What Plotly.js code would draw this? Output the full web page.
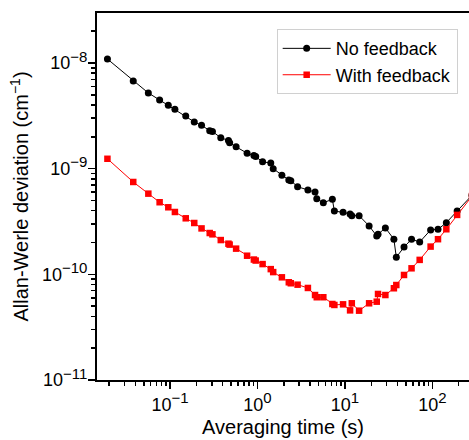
<!DOCTYPE html>
<html>
<head>
<meta charset="utf-8">
<script src="https://cdn.plot.ly/plotly-3.0.1.min.js"></script>
<style>
  html, body { margin: 0; padding: 0; background: #fff; }
  #chart { width: 469px; height: 440px; }
</style>
</head>
<body>
<div id="chart"></div>
<script>
// Averaging time (s)
const tau = [
  0.0192, 0.0379, 0.0564, 0.0759, 0.0954, 0.1135, 0.151, 0.189, 0.229, 0.284,
  0.305, 0.380, 0.465, 0.480, 0.569, 0.760, 0.909, 0.953, 1.143, 1.418,
  1.511, 1.900, 2.280, 2.404, 2.873, 3.77, 4.55, 4.76, 5.66, 7.18,
  7.57, 9.52, 11.45, 11.98, 14.52, 18.9, 23.1, 23.9, 29.0, 36.3,
  38.7, 47.4, 57.8, 71.6, 95.5, 116, 144.5, 192, 284
];

// Allan-Werle deviation (cm^-1), no feedback
const noFeedback = [
  1.09e-8, 6.76e-9, 5.20e-9, 4.47e-9, 3.98e-9, 3.65e-9, 3.15e-9, 2.77e-9, 2.57e-9, 2.29e-9,
  2.25e-9, 1.96e-9, 1.85e-9, 1.76e-9, 1.61e-9, 1.40e-9, 1.33e-9, 1.30e-9, 1.16e-9, 1.13e-9,
  1.00e-9, 8.66e-10, 7.81e-10, 7.69e-10, 6.75e-10, 6.28e-10, 6.01e-10, 5.20e-10, 4.76e-10, 5.13e-10,
  3.97e-10, 3.86e-10, 3.72e-10, 3.59e-10, 3.59e-10, 2.87e-10, 2.31e-10, 2.39e-10, 2.75e-10, 2.15e-10,
  1.45e-10, 1.81e-10, 2.15e-10, 2.02e-10, 2.63e-10, 2.67e-10, 3.08e-10, 3.97e-10, 5.6e-10
];

// Allan-Werle deviation (cm^-1), with feedback
const withFeedback = [
  1.24e-9, 7.48e-10, 5.80e-10, 4.81e-10, 4.31e-10, 3.89e-10, 3.39e-10, 3.06e-10, 2.72e-10, 2.46e-10,
  2.39e-10, 2.11e-10, 1.95e-10, 1.91e-10, 1.75e-10, 1.50e-10, 1.38e-10, 1.35e-10, 1.25e-10, 1.12e-10,
  1.05e-10, 9.37e-11, 8.41e-11, 8.23e-11, 7.98e-11, 7.43e-11, 6.37e-11, 6.07e-11, 6.07e-11, 5.24e-11,
  5.13e-11, 5.20e-11, 4.56e-11, 5.32e-11, 4.53e-11, 5.32e-11, 5.51e-11, 6.52e-11, 6.37e-11, 7.38e-11,
  7.92e-11, 9.86e-11, 1.14e-10, 1.37e-10, 1.83e-10, 2.15e-10, 2.67e-10, 3.65e-10, 5.5e-10
];

const seriesNames = ['No feedback', 'With feedback'];

// Tick positions and labels (mantissa and exponent)
const xTickVals = [0.1, 1, 10, 100];
const xTickExp = ['\u22121', '0', '1', '2'];
const yTickVals = [1e-11, 1e-10, 1e-9, 1e-8];
const yTickExp = ['\u221211', '\u221210', '\u22129', '\u22128'];

const powLabel = e => '10<sup><span style="font-size:15px">' + e + '</span></sup>';

const traces = [
  {
    x: tau, y: noFeedback, name: seriesNames[0],
    type: 'scatter', mode: 'lines+markers',
    line: {color: '#000000', width: 1},
    marker: {color: '#000000', symbol: 'circle', size: 7}
  },
  {
    x: tau, y: withFeedback, name: seriesNames[1],
    type: 'scatter', mode: 'lines+markers',
    line: {color: '#ff0000', width: 1},
    marker: {color: '#ff0000', symbol: 'square', size: 6.5}
  }
];

const font = 'Arial, "Liberation Sans", sans-serif';

const layout = {
  width: 469, height: 440,
  margin: {l: 97, r: 0, t: 13, b: 60, pad: 0},
  paper_bgcolor: '#ffffff', plot_bgcolor: '#ffffff',
  font: {family: font, color: '#000000', size: 18},
  showlegend: true,
  legend: {
    x: 0.483, y: 0.956, xanchor: 'left', yanchor: 'top',
    bgcolor: '#ffffff', bordercolor: '#d0d0d0', borderwidth: 1,
    font: {family: font, size: 18, color: '#000000'},
    itemwidth: 48,
    tracegroupgap: 0
  },
  xaxis: {
    type: 'log', range: [-1.836, 2.419], autorange: false,
    tickmode: 'array', tickvals: xTickVals, ticktext: xTickExp.map(powLabel),
    ticks: 'outside', ticklen: 7, tickwidth: 1.5, tickcolor: '#000',
    minor: {ticks: 'outside', ticklen: 4, tickwidth: 1.5, tickcolor: '#000', dtick: 'D1', showgrid: false},
    showline: true, linecolor: '#000', linewidth: 2, mirror: true,
    showgrid: false, zeroline: false,
    tickfont: {family: font, size: 18, color: '#000'},
    title: {text: 'Averaging time (s)', font: {family: font, size: 20, color: '#000'}, standoff: 6},
    automargin: false
  },
  yaxis: {
    type: 'log', range: [-11, -7.527], autorange: false,
    tickmode: 'array', tickvals: yTickVals, ticktext: yTickExp.map(powLabel),
    ticks: 'outside', ticklen: 7, tickwidth: 1.5, tickcolor: '#000',
    ticklabelstandoff: -3,
    minor: {ticks: 'outside', ticklen: 4, tickwidth: 1.5, tickcolor: '#000', dtick: 'D1', showgrid: false},
    showline: true, linecolor: '#000', linewidth: 2, mirror: false,
    showgrid: false, zeroline: false,
    tickfont: {family: font, size: 18, color: '#000'},
    title: {text: 'Allan-Werle deviation (cm<sup>\u22121</sup>)', font: {family: font, size: 20, color: '#000'}, standoff: 8},
    automargin: false
  }
};

Plotly.newPlot('chart', traces, layout, {displayModeBar: false, staticPlot: true});
</script>
</body>
</html>
